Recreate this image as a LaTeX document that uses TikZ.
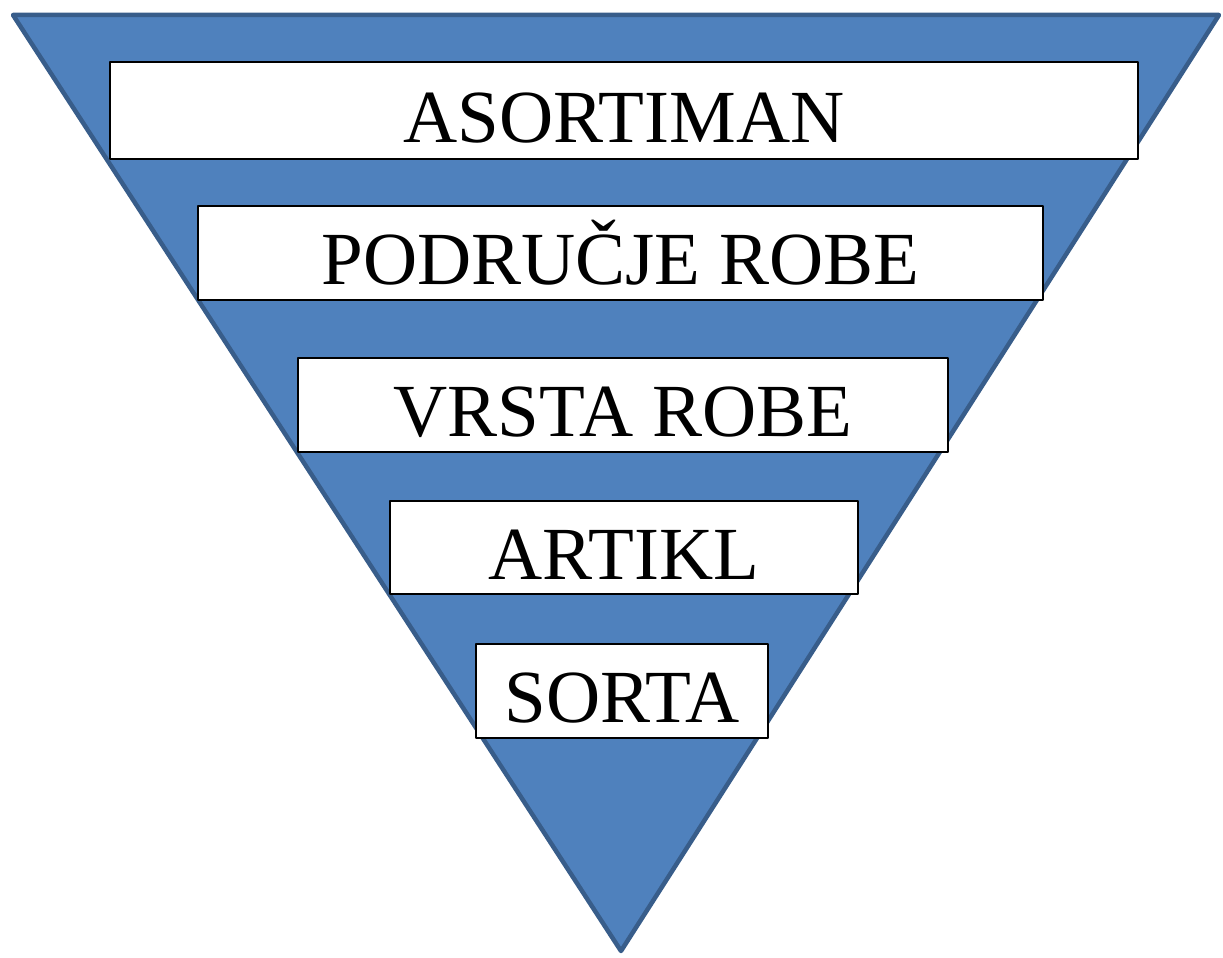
\documentclass[tikz,border=0pt]{standalone}
\usepackage{fontspec}
\setmainfont{Liberation Serif}
\definecolor{trifill}{HTML}{4F81BD}
\definecolor{triedge}{HTML}{385D8A}
\tikzset{
	levelbox/.style={draw=black, line width=1.5pt, fill=white, inner sep=0pt,
		text height=63pt, text depth=0pt, font=\fontsize{75}{82}\selectfont}
}

\begin{document}
\begin{tikzpicture}[x=1pt, y=-1pt, line join=round]
	\useasboundingbox (0,0) rectangle (1223,958);

	% Trokut (obrnuta piramida)
	\draw[fill=trifill, draw=triedge, line width=4.5pt] (13,15) -- (1219,15) -- (621,951) -- cycle;

	% Razine
	\foreach \name/\cx/\cy/\w/\h/\lab in {
		asortiman/624/110.5/1028/97/ASORTIMAN,
		podrucje/620.5/253/845/94/PODRUČJE ROBE,
		vrsta/623/405/650/94/VRSTA ROBE,
		artikl/624/547.5/468/93/ARTIKL,
		sorta/622/691/292/94/SORTA} {
		\node[levelbox, minimum width=\w pt, minimum height=\h pt] (\name) at (\cx,\cy) {\lab};
	}
\end{tikzpicture}
\end{document}
